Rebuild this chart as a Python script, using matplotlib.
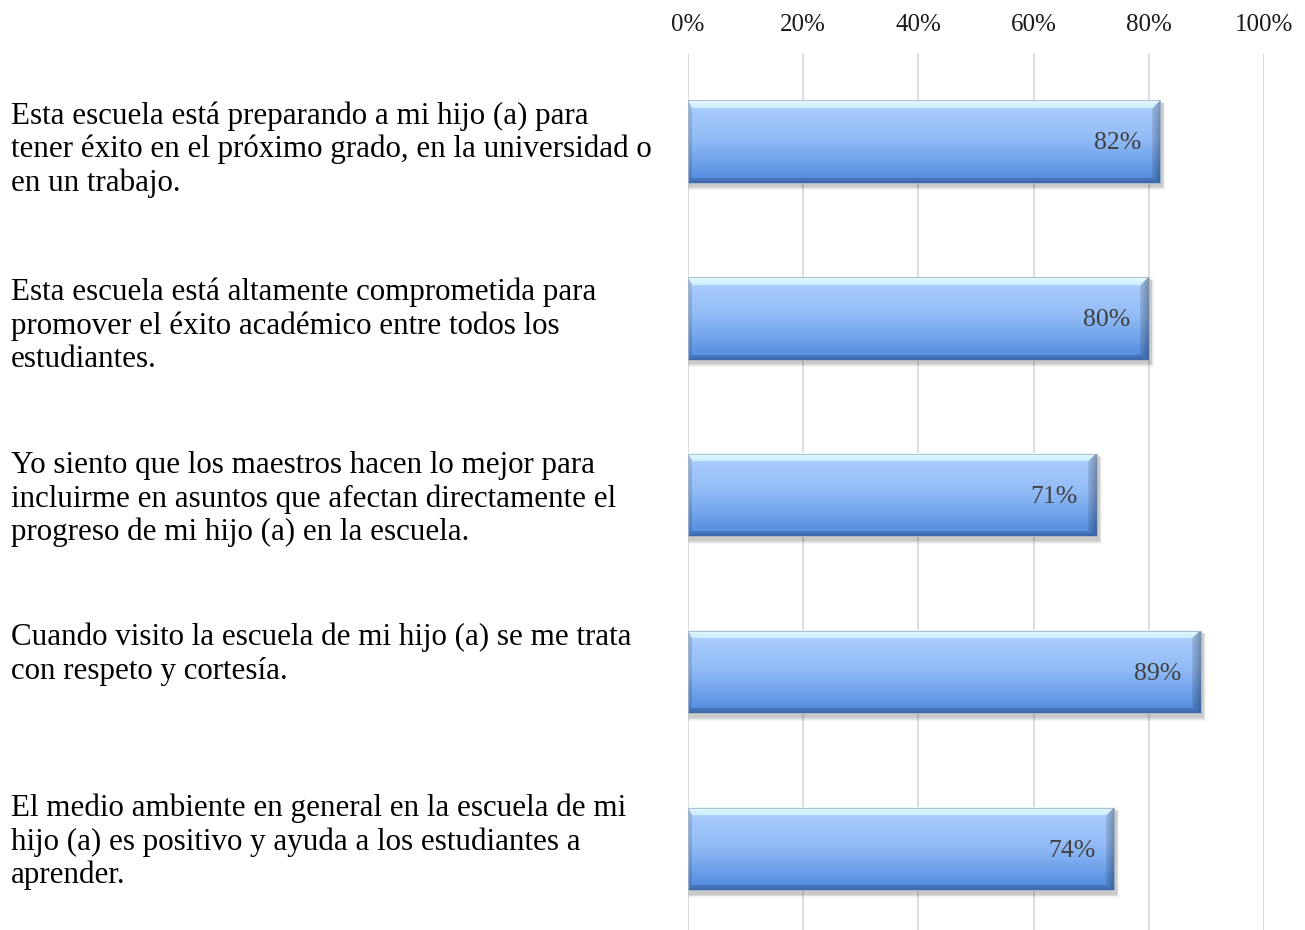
import numpy as np
import matplotlib
matplotlib.use("Agg")
import matplotlib.pyplot as plt
from matplotlib.patches import Rectangle
from matplotlib.colors import to_rgb

categories = [
    "Esta escuela está preparando a mi hijo (a) para\ntener éxito en el próximo grado, en la universidad o\nen un trabajo.",
    "Esta escuela está altamente comprometida para\npromover el éxito académico entre todos los\nestudiantes.",
    "Yo siento que los maestros hacen lo mejor para\nincluirme en asuntos que afectan directamente el\nprogreso de mi hijo (a) en la escuela.",
    "Cuando visito la escuela de mi hijo (a) se me trata\ncon respeto y cortesía.",
    "El medio ambiente en general en la escuela de mi\nhijo (a) es positivo y ayuda a los estudiantes a\naprender.",
]
values = [82, 80, 71, 89, 74]
xticks = [0, 20, 40, 60, 80, 100]
xtick_labels = ["0%", "20%", "40%", "60%", "80%", "100%"]

FONT = ["Liberation Serif", "DejaVu Serif"]
W, H = 1305, 930
fig = plt.figure(figsize=(W / 100, H / 100), dpi=100)
ax = fig.add_axes([688 / W, 0, (1264 - 688) / W, (H - 53) / H])
ax.set_xlim(0, 100)
ax.set_ylim(4.457, -0.5)
ypos = np.arange(len(values))
bh = 0.465
bars = ax.barh(ypos, values, height=bh, facecolor="none", edgecolor="none", zorder=4)

# axes styling
for s in ax.spines.values():
    s.set_visible(False)
ax.xaxis.tick_top()
ax.set_xticks(xticks)
ax.set_xticklabels(xtick_labels, fontsize=18, family=FONT, color="#1a1a1a")
ax.tick_params(axis="x", length=0, pad=12)
ax.set_yticks([])
ax.grid(axis="x", color="#d9d9d9", linewidth=1.3, zorder=0)
ax.set_axisbelow(True)


def lerp_stops(stops, t):
    ts = np.array([s[0] for s in stops])
    cols = np.array([to_rgb(s[1]) for s in stops])
    return np.stack([np.interp(t, ts, cols[:, k]) for k in range(3)], axis=-1)


main_stops = [(0.0, "#b8dafd"), (0.15, "#a4c8fb"), (0.45, "#93bcf6"),
              (0.75, "#6ea2ea"), (1.0, "#4f8ade")]
top_stops = [(0.0, "#e4f8ff"), (1.0, "#c8ecfd")]
bot_stops = [(0.0, "#3d69ab"), (1.0, "#4b7cc2")]

px_x = 576 / 100.0
px_y = 176.9

for rect, v, yc in zip(bars.patches, values, ypos):
    wpx = max(int(round(v * px_x)), 10)
    hpx = int(round(bh * px_y))
    r = np.arange(hpx)[:, None] * np.ones((1, wpx))
    c = np.ones((hpx, 1)) * np.arange(wpx)[None, :]
    t = r / (hpx - 1)
    img = lerp_stops(main_stops, t)
    tb, bb, lb, rb = 8.0, 5.0, 4.0, 9.0
    nt = r / tb
    nb = (hpx - 1 - r) / bb
    nl = c / lb
    nr = (wpx - 1 - c) / rb
    stack = np.stack([nt, nb, nl, nr], axis=0)
    which = np.argmin(stack, axis=0)
    mn = np.min(stack, axis=0)
    inside = mn < 1
    topc = lerp_stops(top_stops, np.clip(nt, 0, 1))
    botc = lerp_stops(bot_stops, np.clip(nb, 0, 1))
    leftc = img * 0.88
    rightc = img * (0.70 + 0.22 * np.clip(nr, 0, 1))[..., None]
    out = img.copy()
    for k, cc in enumerate([topc, botc, leftc, rightc]):
        m = inside & (which == k)
        out[m] = cc[m]
    # soft shadow
    for grow, a in [(6, 0.04), (4, 0.05), (3, 0.06), (2, 0.07)]:
        ax.add_patch(Rectangle((2 / px_x - grow / px_x * 0.5, yc - bh / 2 + 3 / px_y - grow / px_y * 0.2),
                               v + grow / px_x, bh + grow / px_y,
                               facecolor="#000000", alpha=a, edgecolor="none", zorder=2))
    ax.imshow(out, extent=(0, v, yc + bh / 2, yc - bh / 2), origin="upper",
              aspect="auto", interpolation="bilinear", zorder=3)
    ax.add_patch(Rectangle((0, yc - bh / 2), v, bh, facecolor="none",
                           edgecolor="#a7b6c8", linewidth=0.6, zorder=4))
    ax.text(v - 19 / px_x, yc + 1.5 / px_y, f"{v}%", ha="right", va="center",
            fontsize=18.5, family=FONT, color="#404040", zorder=5)

ax.set_xlim(0, 100)
ax.set_ylim(4.457, -0.5)

# left labels, font size fitted to the measured line width
renderer = fig.canvas.get_renderer()
probe = fig.text(0, 0, categories[0].split("\n")[1], fontsize=20, family=FONT)
wprobe = probe.get_window_extent(renderer).width
probe.remove()
fs = 20 * 641.0 / wprobe

baselines = [124, 300, 473, 645, 816]
line_step = 33.5
for lab, b0 in zip(categories, baselines):
    for i, line in enumerate(lab.split("\n")):
        fig.text(11 / W, 1 - (b0 + i * line_step) / H, line, ha="left", va="baseline",
                 fontsize=fs, family=FONT, color="#000000")

fig.savefig("out.png", dpi=100)
